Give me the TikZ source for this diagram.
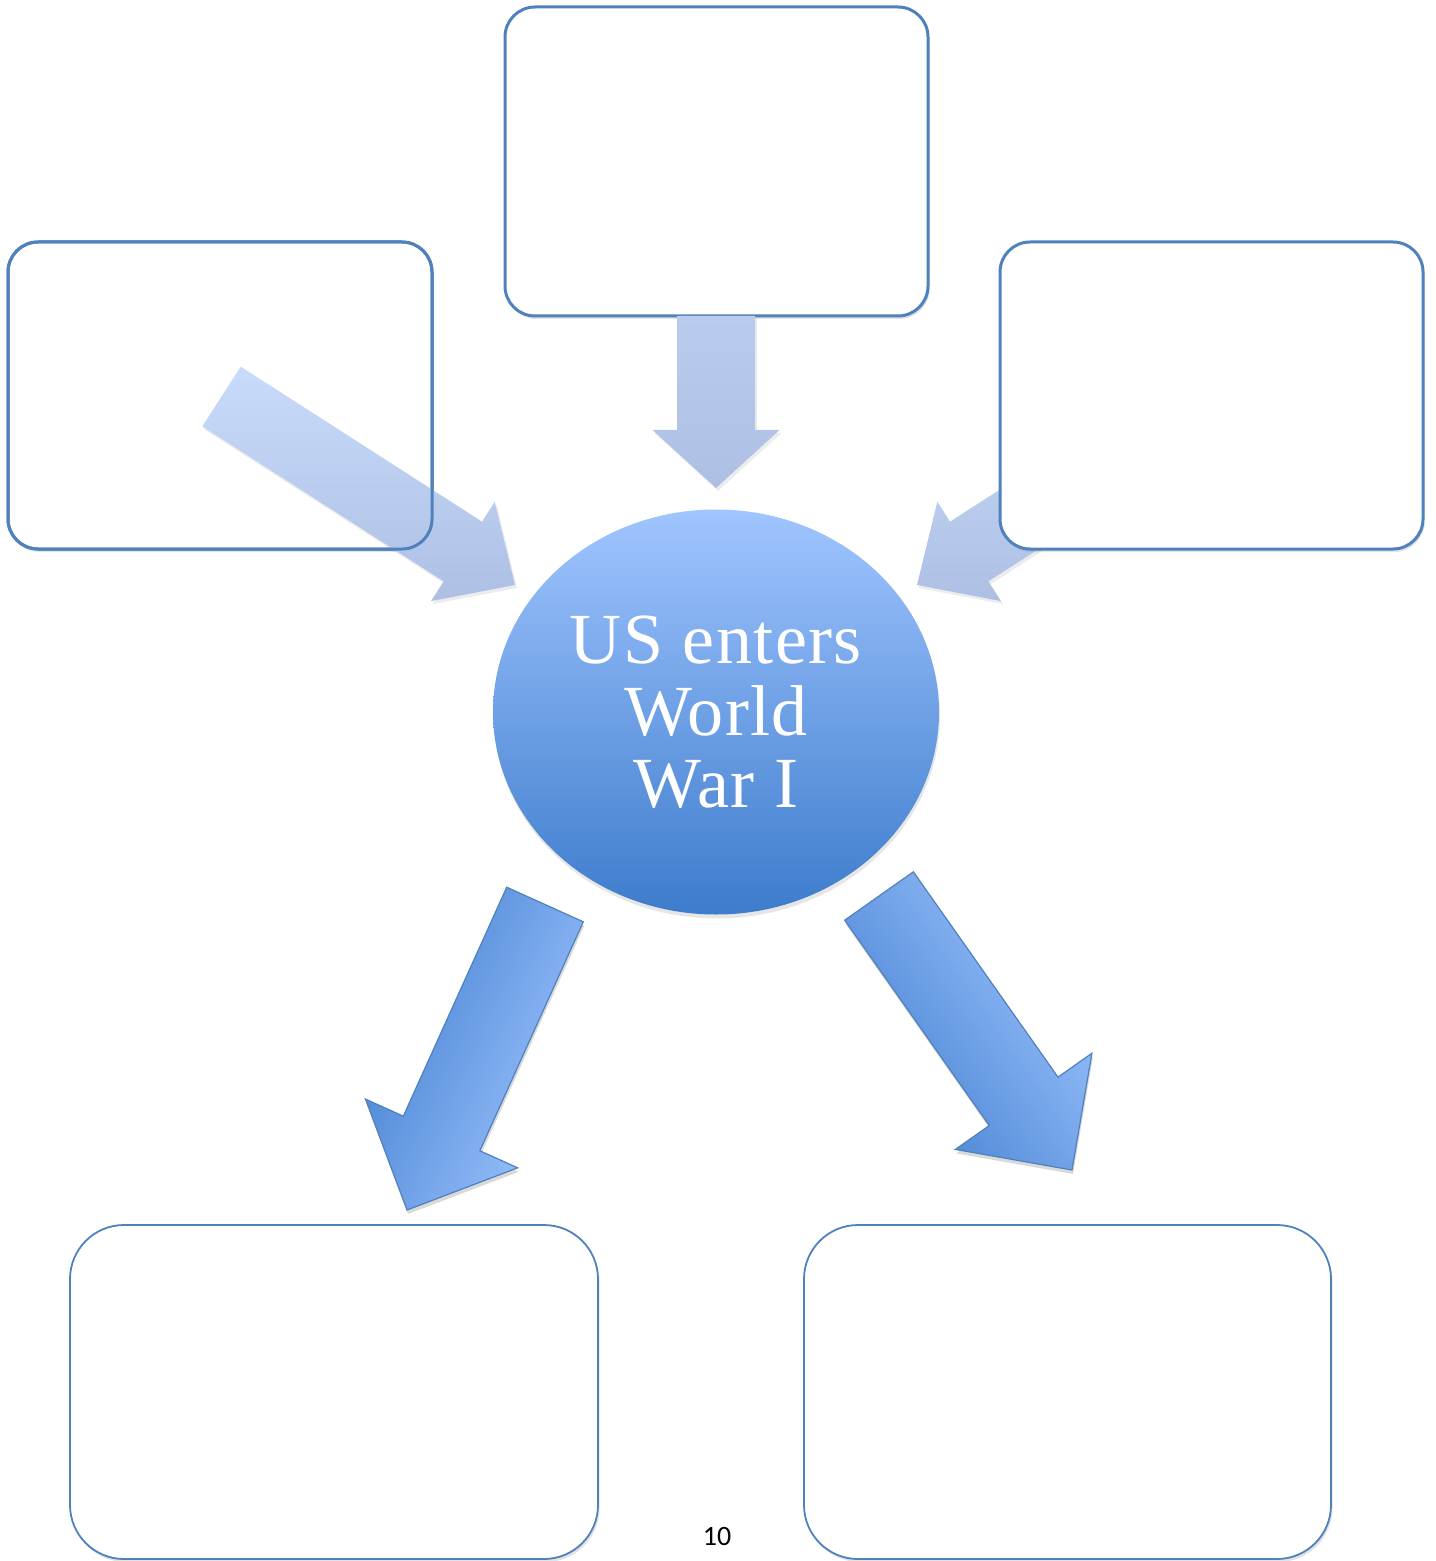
\documentclass[tikz,border=0pt]{standalone}
\usepackage{fontspec}
\newfontfamily\pagefont{Carlito}
\newfontfamily\eventfont[LetterSpace=2]{Liberation Serif}
\usetikzlibrary{calc,shapes.geometric,shadows}
\definecolor{cardblue}{HTML}{4F81BD}
\definecolor{inlight}{HTML}{C9DBFA}
\definecolor{indark}{HTML}{ADC0E4}
\definecolor{downlight}{HTML}{B9CCED}
\definecolor{outlight}{HTML}{9EC4FF}
\definecolor{outdark}{HTML}{4480D0}
\definecolor{eventtop}{HTML}{A0C5FF}
\definecolor{eventbot}{HTML}{3D7CCC}

% block arrow from #2 to #3: shaft half width, head half width, head length
\newcommand{\blockarrow}[6][]{%
  \path[#1] ($(#2)!#4!90:(#3)$) -- ($(#3)!#6!(#2)!#4!-90:(#2)$)
    -- ($(#3)!#6!(#2)!#5!-90:(#2)$) -- (#3)
    -- ($(#3)!#6!(#2)!#5!90:(#2)$) -- ($(#3)!#6!(#2)!#4!90:(#2)$)
    -- ($(#2)!#4!-90:(#3)$) -- cycle;}

\begin{document}
\begin{tikzpicture}[x=0.5pt, y=-0.5pt,
	card/.style={draw=cardblue, line width=1.5pt, fill=white, rounded corners=15pt,
		inner sep=0pt, outer sep=0pt,
		drop shadow={shadow xshift=0.8pt, shadow yshift=-1.5pt, opacity=0.22}},
	wide card/.style={card, line width=0.9pt, rounded corners=27pt},
	inarrow/.style={top color=inlight, bottom color=indark,
		drop shadow={shadow xshift=1pt, shadow yshift=-1.5pt, opacity=0.15}},
	outarrow/.style={draw=cardblue, line width=0.6pt, top color=outlight, bottom color=outdark,
		drop shadow={shadow xshift=0.5pt, shadow yshift=-2pt, opacity=0.3}},
	event/.style={ellipse, minimum width=223pt, minimum height=202.5pt, inner sep=0pt,
		top color=eventtop, bottom color=eventbot, text=white, align=center,
		font=\eventfont\fontsize{36}{36}\selectfont,
		drop shadow={shadow xshift=0.5pt, shadow yshift=-2pt, opacity=0.2}}]
	\useasboundingbox (0,0) rectangle (1435,1561);

	\coordinate (c1tail) at (221.5,396.5);
	\coordinate (c1tip) at (515,585);
	\coordinate (c2tail) at (716,316);
	\coordinate (c2tip) at (716,488);
	\coordinate (c3tail) at (1210.5,396.5);
	\coordinate (c3tip) at (917,585);
	\coordinate (e1tail) at (545,904.5);
	\coordinate (e1tip) at (407,1210);
	\coordinate (e2tail) at (879,896);
	\coordinate (e2tip) at (1072,1170);

	\node[card, minimum width=212pt, minimum height=153.5pt] (cause1) at (220,395.5) {};
	\blockarrow[inarrow]{c3tail}{c3tip}{17.75pt}{29.5pt}{31pt}
	\blockarrow[inarrow]{c1tail}{c1tip}{17.75pt}{29.5pt}{31pt}
	\draw[cardblue, line width=1.5pt, rounded corners=15pt] (cause1.south west) rectangle (cause1.north east);
	\node[card, minimum width=211.5pt, minimum height=154.5pt] (cause2) at (716.5,161.5) {};
	\node[card, minimum width=211.5pt, minimum height=153.5pt] (cause3) at (1211.5,395.5) {};
	\blockarrow[inarrow, top color=downlight]{c2tail}{c2tip}{19.5pt}{31.75pt}{29pt}

	\node[event] (event) at (716,712) {US enters\\World\\War I};

	\blockarrow[outarrow, shading angle=-114]{e1tail}{e1tip}{21pt}{41.75pt}{42pt}
	\blockarrow[outarrow, shading angle=-55]{e2tail}{e2tip}{21pt}{41.75pt}{42pt}
	\node[wide card, minimum width=264pt, minimum height=167pt] (effect1) at (334,1392) {};
	\node[wide card, minimum width=263.5pt, minimum height=167pt] (effect2) at (1067.5,1392) {};

	\node[font=\pagefont\fontsize{14}{16}\selectfont] (pagenum) at (717,1536) {10};
\end{tikzpicture}
\end{document}
